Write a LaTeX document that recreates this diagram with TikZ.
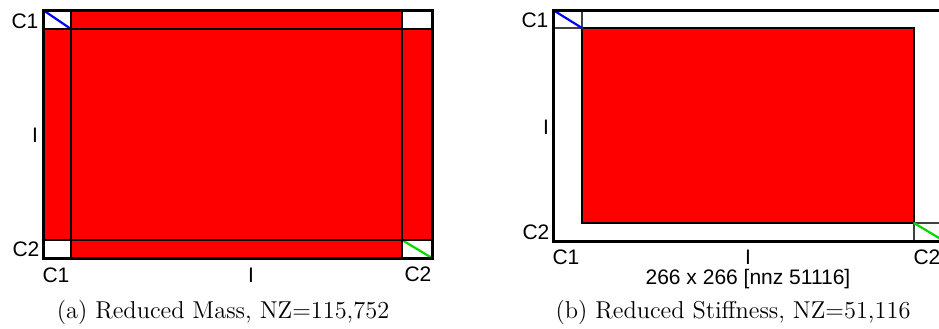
\documentclass[tikz,border=0pt]{standalone}
\usepackage{fontspec}
\setsansfont{Liberation Sans}
\usetikzlibrary{positioning}

\begin{document}
\begin{tikzpicture}[x=0.5pt,y=-0.5pt]
  \tikzset{grid/.style={draw=black, line width=1.1pt},
           thinbox/.style={draw=black!75, line width=0.6pt},
           frame/.style={draw=black, line width=1.5pt},
           diag/.style={line width=1.1pt},
           lbl/.style={font=\sffamily\fontsize{10.5}{12}\selectfont, inner sep=0pt},
           subcap/.style={font=\fontsize{12.2}{14}\selectfont, inner sep=0pt}}
  \useasboundingbox (0,0) rectangle (939,328);
  % (a) reduced mass
  \fill[red] (43,10) rectangle (432,258);
  \fill[white] (43,10) rectangle (71,29);
  \fill[white] (402,10) rectangle (432,29);
  \fill[white] (43,240) rectangle (71,258);
  \fill[white] (402,240) rectangle (432,258);
  \draw[diag, blue] (43,10) -- (71,29);
  \draw[diag, green!85!black] (402,240) -- (432,258);
  \draw[grid] (71,10) -- (71,258) (402,10) -- (402,258)
              (43,29) -- (432,29) (43,240) -- (432,240);
  \draw[frame] (43,10) rectangle (432,258);
  \node[lbl] (aC1l) at (25,21)  {C1};
  \node[lbl] (aIl)  at (35,135) {I};
  \node[lbl] (aC2l) at (26,249) {C2};
  \node[lbl] (aC1b) at (56,275) {C1};
  \node[lbl] (aIb)  at (251,275) {I};
  \node[lbl] (aC2b) at (418,274) {C2};
  \node[subcap] (capa) at (223,312) {(a) Reduced Mass, NZ=115,752};
  % (b) reduced stiffness
  \fill[red] (582,28) rectangle (914,223);
  \draw[grid] (582,28) rectangle (914,223);
  \draw[thinbox] (553,10) rectangle (582,28);
  \draw[thinbox] (914,223) rectangle (944,241);
  \draw[diag, blue] (553,10) -- (582,28);
  \draw[diag, green!85!black] (914,223) -- (944,241);
  \draw[frame] (553,10) rectangle (944,241);
  \node[lbl] (bC1l) at (535,20)  {C1};
  \node[lbl] (bIl)  at (546,127) {I};
  \node[lbl] (bC2l) at (536,232) {C2};
  \node[lbl] (bC1b) at (566,257) {C1};
  \node[lbl] (bIb)  at (748,257) {I};
  \node[lbl] (bC2b) at (927,257) {C2};
  \node[lbl] (size) at (748,279) {266 x 266 [nnz 51116]};
  \node[subcap] (capb) at (733,312) {(b) Reduced Stiffness, NZ=51,116};
\end{tikzpicture}
\end{document}
